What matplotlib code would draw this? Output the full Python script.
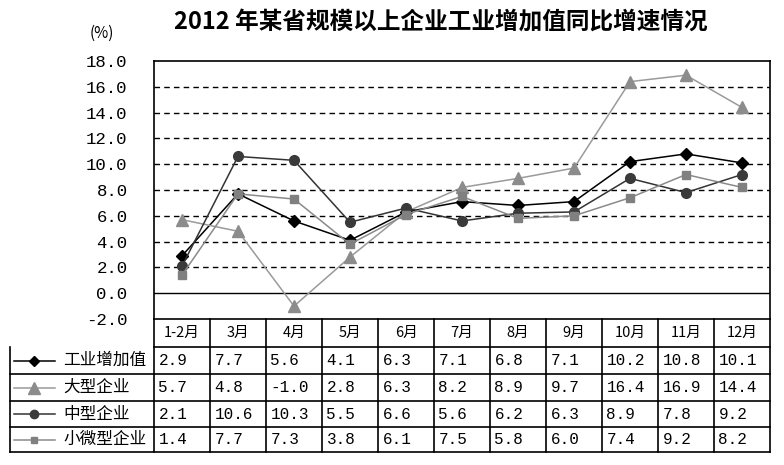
import matplotlib.pyplot as plt
from matplotlib.transforms import blended_transform_factory

plt.rcParams['font.family'] = ['Noto Sans CJK SC', 'DejaVu Sans']

months = ["1-2月", "3月", "4月", "5月", "6月", "7月", "8月", "9月", "10月", "11月", "12月"]
gongye = [2.9, 7.7, 5.6, 4.1, 6.3, 7.1, 6.8, 7.1, 10.2, 10.8, 10.1]
daxing = [5.7, 4.8, -1.0, 2.8, 6.3, 8.2, 8.9, 9.7, 16.4, 16.9, 14.4]
zhongxing = [2.1, 10.6, 10.3, 5.5, 6.6, 5.6, 6.2, 6.3, 8.9, 7.8, 9.2]
xiaowei = [1.4, 7.7, 7.3, 3.8, 6.1, 7.5, 5.8, 6.0, 7.4, 9.2, 8.2]
names = ["工业增加值", "大型企业", "中型企业", "小微型企业"]
yticks = [-2, 0, 2, 4, 6, 8, 10, 12, 14, 16, 18]

series = [gongye, daxing, zhongxing, xiaowei]
styles = [
    dict(color="black", marker="D", markersize=6, mfc="black", mec="black"),
    dict(color="#9a9a9a", marker="^", markersize=9, mfc="#8c8c8c", mec="#8c8c8c"),
    dict(color="#333333", marker="o", markersize=7, mfc="#3a3a3a", mec="#3a3a3a"),
    dict(color="#8a8a8a", marker="s", markersize=6, mfc="#808080", mec="#808080"),
]

W, H = 784, 465
fig = plt.figure(figsize=(W / 100, H / 100), dpi=100)
top_px, bot_px, left_px, right_px = 61, 319, 154, 770
ax = fig.add_axes([left_px / W, 1 - bot_px / H, (right_px - left_px) / W, (bot_px - top_px) / H])

x = list(range(len(months)))
for vals, st in zip(series, styles):
    ax.plot(x, vals, lw=1.1, clip_on=False, zorder=3, **st)

ax.set_xlim(-0.5, len(months) - 0.5)
ax.set_ylim(-2, 18)
ax.set_yticks(yticks)
ax.set_yticklabels([f"{v:.1f}" for v in yticks], family="Liberation Mono", fontsize=12.5)
ax.tick_params(axis="y", length=0, pad=19)
ax.set_xticks([])
for v in yticks[2:-1]:
    ax.axhline(v, color="black", lw=1, ls=(0, (4, 3)), zorder=1)
ax.axhline(0, color="black", lw=1, zorder=1)
for s in ax.spines.values():
    s.set_linewidth(1.2)

fig.text(441 / W, 1 - 22 / H, "2012 年某省规模以上企业工业增加值同比增速情况",
         ha="center", va="center", fontsize=17, fontweight="bold")
fig.text(102 / W, 1 - 33 / H, "(%)", ha="center", va="center", fontsize=11)

# data table below the plot
tr = blended_transform_factory(ax.transData, ax.transAxes)
def yf(py):
    return (bot_px - py) / (bot_px - top_px)

row_px = [319, 347, 374, 401, 427, 452]
x_left = (10 - left_px) / 56 - 0.5
x_r = len(months) - 0.5
line_kw = dict(color="black", lw=1.2, transform=tr, clip_on=False)

# header row
ax.plot([-0.5, x_r], [yf(row_px[1])] * 2, **line_kw)
for i, m in enumerate(months):
    ax.text(i, yf((row_px[0] + row_px[1]) / 2), m, transform=tr, ha="center", va="center", fontsize=10.5)
for r in range(2, 6):
    ax.plot([x_left, x_r], [yf(row_px[r])] * 2, **line_kw)
ax.plot([x_left, x_left], [yf(row_px[1]), yf(row_px[5])], **line_kw)
for i in range(len(months) + 1):
    ax.plot([i - 0.5, i - 0.5], [yf(row_px[0]), yf(row_px[5])], **line_kw)

for r, (nm, vals, st) in enumerate(zip(names, series, styles)):
    yc = yf((row_px[r + 1] + row_px[r + 2]) / 2)
    ax.plot([(14 - left_px) / 56 - 0.5, (55 - left_px) / 56 - 0.5], [yc, yc],
            color=st["color"], lw=1.1, transform=tr, clip_on=False)
    ax.plot([(34 - left_px) / 56 - 0.5], [yc], transform=tr, clip_on=False, ls="none",
            marker=st["marker"], markersize=st["markersize"] - 1, mfc=st["mfc"], mec=st["mec"])
    ax.text((63 - left_px) / 56 - 0.5, yc, nm, transform=tr, ha="left", va="center", fontsize=12)
    for i, v in enumerate(vals):
        ax.text(i - 0.42, yc, f"{v:.1f}", transform=tr, ha="left", va="center",
                fontsize=11.5, family="Liberation Mono")

fig.savefig("out.png", dpi=100)
